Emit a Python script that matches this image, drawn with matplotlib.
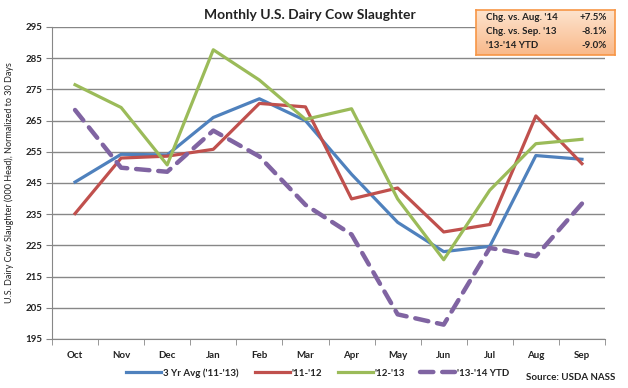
import matplotlib
matplotlib.use("Agg")
import matplotlib.pyplot as plt
import numpy as np
from matplotlib.colors import LinearSegmentedColormap

months = ["Oct", "Nov", "Dec", "Jan", "Feb", "Mar", "Apr", "May", "Jun", "Jul", "Aug", "Sep"]
avg_3yr = [245.3, 254.2, 254.0, 266.0, 272.0, 265.0, 247.8, 232.4, 223.0, 224.7, 253.8, 252.6]
y11_12 = [235.2, 253.0, 253.6, 255.8, 270.5, 269.4, 239.9, 243.4, 229.3, 231.7, 266.5, 251.2]
y12_13 = [276.5, 269.2, 250.8, 287.7, 278.0, 265.4, 268.8, 239.9, 220.4, 242.7, 257.6, 259.0]
y13_14 = [268.4, 249.9, 248.6, 261.8, 253.5, 238.0, 228.5, 202.9, 199.6, 224.2, 221.5, 238.4]
series_labels = ["3 Yr Avg ('11-'13)", "'11-'12", "'12-'13", "'13-'14 YTD"]
yticks = list(range(195, 296, 10))
box_rows = [("Chg. vs. Aug. '14", "+7.5%"), ("Chg. vs. Sep. '13", "-8.1%"), ("'13-'14 YTD", "-9.0%")]

plt.rcParams['font.family'] = ['Lato', 'DejaVu Sans']

W, H = 628, 388
fig = plt.figure(figsize=(W / 100, H / 100), dpi=100)
ax = fig.add_axes([52 / W, 1 - 339 / H, (605 - 52) / W, (339 - 27) / H])

x = np.arange(len(months))
ax.plot(x, avg_3yr, color="#4F81BD", lw=2.3, label=series_labels[0], zorder=3)
ax.plot(x, y11_12, color="#C0504D", lw=2.3, label=series_labels[1], zorder=3)
ax.plot(x, y12_13, color="#9BBB59", lw=2.3, label=series_labels[2], zorder=3)
ax.plot(x, y13_14, color="#8064A2", lw=3.2, ls=(0, (3.0, 2.0)), dash_capstyle="round",
        label=series_labels[3], zorder=4)

ax.set_xlim(-0.5, 11.5)
ax.set_ylim(195, 295)
ax.set_yticks(yticks)
ax.set_yticklabels([str(v) for v in yticks], fontsize=7, fontweight="bold", color="#222222")
ax.set_xticks(x)
ax.set_xticklabels(months, fontsize=7, fontweight="bold", color="#222222")
ax.set_xticks(np.arange(-0.5, 12, 1), minor=True)
ax.tick_params(axis="x", which="major", length=0, pad=9)
ax.tick_params(axis="x", which="minor", length=4, color="#878787", direction="out")
ax.tick_params(axis="y", length=4, color="#878787", direction="out", pad=3)
ax.grid(axis="y", color="#878787", lw=1.0)
ax.set_axisbelow(True)
for s in ["top", "right"]:
    ax.spines[s].set_visible(False)
for s in ["left", "bottom"]:
    ax.spines[s].set_color("#878787")
ax.set_ylabel("U.S. Dairy Cow Slaughter (000 Head), Normalized to 30 Days", fontsize=6.5,
              color="#222222", labelpad=8)

fig.text(310 / W, 1 - 15 / H, "Monthly U.S. Dairy Cow Slaughter", ha="center", va="center",
         fontsize=10, fontweight="bold", color="#222222")

leg = fig.legend(loc="center", bbox_to_anchor=(318 / W, 1 - 373 / H), ncol=4, frameon=False,
                 fontsize=7, handlelength=3.6, columnspacing=1.6, handletextpad=0.2)
for t in leg.get_texts():
    t.set_fontweight("bold")
    t.set_color("#222222")

fig.text(615 / W, 1 - 378 / H, "Source: USDA NASS", ha="right", va="center", fontsize=7,
         fontweight="bold", color="#222222")

# info box with gradient
bx0, bx1, by0, by1 = 476, 615, 10, 55
bax = fig.add_axes([bx0 / W, 1 - by1 / H, (bx1 - bx0) / W, (by1 - by0) / H], zorder=10)
grad = np.linspace(0, 1, 100).reshape(-1, 1)
cmap = LinearSegmentedColormap.from_list("og", ["#FDE4CF", "#F9B98A"])
bax.imshow(grad, aspect="auto", cmap=cmap, extent=[0, 1, 0, 1], origin="upper")
bax.set_xlim(0, 1)
bax.set_ylim(0, 1)
bax.set_xticks([])
bax.set_yticks([])
for s in bax.spines.values():
    s.set_color("#F79646")
    s.set_linewidth(1.2)
row_y = [18, 32, 46]
for (lab, val), ry in zip(box_rows, row_y):
    yy = 1 - (ry - by0) / (by1 - by0)
    bax.text((486 - bx0) / (bx1 - bx0), yy, lab, ha="left", va="center", fontsize=7,
             fontweight="bold", color="#222222")
    bax.text((607 - bx0) / (bx1 - bx0), yy, val, ha="right", va="center", fontsize=7,
             fontweight="bold", color="#222222")

fig.savefig("out.png", dpi=100)
